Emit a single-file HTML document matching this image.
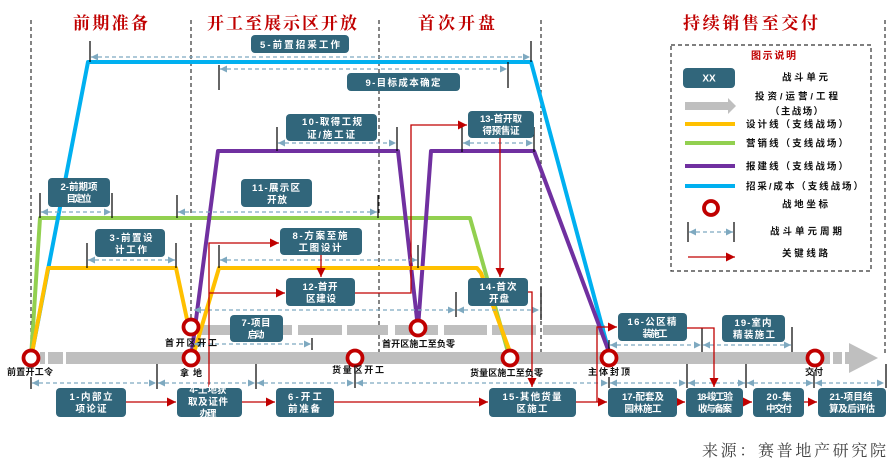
<!DOCTYPE html>
<html><head><meta charset="utf-8"><style>
html,body{margin:0;padding:0;background:#fff;}
svg{display:block;}
text{font-family:"Liberation Sans","Noto Sans CJK SC",sans-serif;}
.hd{font-family:"Liberation Serif","Noto Serif CJK SC",serif;font-weight:bold;font-size:17px;fill:#c00000;}
.bx{fill:#31667b;}
.bt{fill:#fff;font-weight:bold;font-size:9.5px;}
.lb{fill:#111;font-weight:bold;font-size:9px;}
.lg{fill:#111;font-weight:bold;font-size:9.5px;}
</style></head><body>
<svg width="893" height="474" viewBox="0 0 893 474" xmlns="http://www.w3.org/2000/svg">
<defs>
<marker id="pa" markerUnits="userSpaceOnUse" markerWidth="8" markerHeight="8" refX="7" refY="4" orient="auto-start-reverse"><path d="M0,0.5 L7,4 L0,7.5 z" fill="#7ea9c0"/></marker>
<marker id="ra" markerUnits="userSpaceOnUse" markerWidth="10" markerHeight="10" refX="9" refY="4.5" orient="auto"><path d="M0,0 L9,4.5 L0,9 z" fill="#c00000"/></marker>
</defs>

<!-- separators -->
<g stroke="#333" stroke-width="1.2" stroke-dasharray="4,3">
<line x1="31" y1="20" x2="31" y2="350"/>
<line x1="191" y1="20" x2="191" y2="320"/>
<line x1="379" y1="20" x2="379" y2="352"/>
<line x1="541" y1="20" x2="541" y2="352"/>
<line x1="885" y1="20" x2="885" y2="353"/>
</g>

<!-- headers -->
<text class="hd" x="73" y="29" textLength="75" lengthAdjust="spacing">前期准备</text>
<text class="hd" x="207" y="29" textLength="150" lengthAdjust="spacing">开工至展示区开放</text>
<text class="hd" x="418" y="29" textLength="77" lengthAdjust="spacing">首次开盘</text>
<text class="hd" x="683" y="29" textLength="135" lengthAdjust="spacing">持续销售至交付</text>

<!-- main gray arrow -->
<g fill="#bfbfbf">
<rect x="40" y="352" width="5" height="12"/>
<rect x="48" y="352" width="15" height="12"/>
<rect x="66" y="352" width="764" height="12"/>
<rect x="833" y="352" width="9" height="12"/>
<polygon points="845,352 849,352 849,343 878,358 849,373 849,364 845,364"/>
<!-- upper bar -->
<rect x="200" y="325" width="92" height="10"/>
<rect x="298" y="325" width="44" height="10"/>
<rect x="347" y="325" width="41" height="10"/>
<rect x="395" y="325" width="43" height="10"/>
<rect x="444" y="325" width="43" height="10"/>
<rect x="492" y="325" width="44" height="10"/>
<rect x="543" y="325" width="62" height="10"/>
</g>

<!-- colored lines -->
<g fill="none" stroke-width="4" stroke-linejoin="round">
<polyline stroke="#92d050" points="31,358 40,218 470,218 508,352"/>
<polyline stroke="#00b0f0" points="31,358 88,62 531,62 609,352"/>
<polyline stroke="#7030a0" points="191,358 218,151 398,151 418,328 431,151 534,151 609,352"/>
<polyline stroke="#ffc000" points="31,358 48,268 176,268 188,324"/>
<polyline stroke="#ffc000" points="193,356 219,268 477,268 481,273 510,352"/>
</g>

<!-- period lines -->
<g stroke="#7ea9c0" stroke-width="1.2" stroke-dasharray="4,3" marker-start="url(#pa)" marker-end="url(#pa)">
<line x1="91" y1="57" x2="530" y2="57"/>
<line x1="220" y1="69" x2="507" y2="69"/>
<line x1="278" y1="143" x2="396" y2="143"/>
<line x1="463" y1="143" x2="533" y2="143"/>
<line x1="41" y1="212" x2="111" y2="212"/>
<line x1="178" y1="212" x2="377" y2="212"/>
<line x1="88" y1="260" x2="175" y2="260"/>
<line x1="220" y1="260" x2="417" y2="260"/>
<line x1="194" y1="310" x2="455" y2="310"/>
<line x1="457" y1="310" x2="539" y2="310"/>
<line x1="194" y1="344" x2="311" y2="344"/>
<line x1="32" y1="383" x2="156" y2="383"/>
<line x1="158" y1="383" x2="255" y2="383"/>
<line x1="257" y1="383" x2="354" y2="383"/>
<line x1="356" y1="383" x2="608" y2="383"/>
<line x1="610" y1="383" x2="686" y2="383"/>
<line x1="688" y1="383" x2="745" y2="383"/>
<line x1="747" y1="383" x2="813" y2="383"/>
<line x1="815" y1="383" x2="884" y2="383"/>
<line x1="610" y1="345" x2="701" y2="345"/>
<line x1="703" y1="345" x2="791" y2="345"/>
</g>
<!-- ticks -->
<g stroke="#000" stroke-width="1.2">
<line x1="90" y1="41" x2="90" y2="62"/><line x1="531" y1="41" x2="531" y2="62"/>
<line x1="219" y1="65" x2="219" y2="90"/><line x1="508" y1="62" x2="508" y2="88"/>
<line x1="277" y1="127" x2="277" y2="151"/><line x1="397" y1="127" x2="397" y2="151"/>
<line x1="462" y1="127" x2="462" y2="152"/><line x1="534" y1="127" x2="534" y2="152"/>
<line x1="40" y1="193" x2="40" y2="218"/><line x1="112" y1="193" x2="112" y2="218"/>
<line x1="177" y1="195" x2="177" y2="218"/><line x1="378" y1="195" x2="378" y2="218"/>
<line x1="87" y1="243" x2="87" y2="268"/><line x1="176" y1="243" x2="176" y2="268"/>
<line x1="219" y1="245" x2="219" y2="268"/><line x1="418" y1="245" x2="418" y2="268"/>
<line x1="456" y1="292" x2="456" y2="317"/><line x1="541" y1="287" x2="541" y2="320"/>
<line x1="312" y1="338" x2="312" y2="350"/>
<line x1="31" y1="377" x2="31" y2="389"/><line x1="157" y1="364" x2="157" y2="389"/>
<line x1="256" y1="364" x2="256" y2="389"/><line x1="355" y1="360" x2="355" y2="388"/>
<line x1="609" y1="377" x2="609" y2="388"/><line x1="687" y1="364" x2="687" y2="388"/>
<line x1="746" y1="364" x2="746" y2="388"/><line x1="814" y1="372" x2="814" y2="388"/>
<line x1="886" y1="364" x2="886" y2="388"/>
<line x1="702" y1="328" x2="702" y2="352"/><line x1="792" y1="327" x2="792" y2="352"/>
<line x1="609" y1="340" x2="609" y2="352"/>
</g>

<!-- red critical path -->
<g stroke="#c00000" stroke-width="1.3" fill="none" marker-end="url(#ra)">
<path d="M126,402 H176"/>
<path d="M242,402 H275"/>
<path d="M334,402 H488"/>
<path d="M576,402 H607"/>
<path d="M677,402 H685"/>
<path d="M743,402 H752"/>
<path d="M804,402 H817"/>
<path d="M209,388 V243 H279"/>
<path d="M209,293 H285"/>
<path d="M321,255 V277"/>
<path d="M355,293 H411 V125 H467"/>
<path d="M500,138 V277"/>
<path d="M528,292 H532 V387"/>
<path d="M597,402 V327 H617"/>
<path d="M687,328 H714 V387"/>
</g>

<!-- boxes -->
<g>
<rect class="bx" x="251" y="35" width="98" height="18" rx="4"/>
<text class="bt" x="300" y="48" text-anchor="middle" textLength="80" lengthAdjust="spacing">5-前置招采工作</text>

<rect class="bx" x="347" y="73" width="113" height="18" rx="4"/>
<text class="bt" x="403" y="86" text-anchor="middle" textLength="75" lengthAdjust="spacing">9-目标成本确定</text>

<rect class="bx" x="286" y="114" width="91" height="27" rx="4"/>
<text class="bt" x="332" y="125" text-anchor="middle" textLength="60" lengthAdjust="spacing">10-取得工规</text>
<text class="bt" x="331" y="138" text-anchor="middle" textLength="48" lengthAdjust="spacing">证/施工证</text>

<rect class="bx" x="468" y="111" width="66" height="27" rx="4"/>
<text class="bt" x="501" y="122" text-anchor="middle" font-size="8.5" textLength="42" lengthAdjust="spacing">13-首开取</text>
<text class="bt" x="501" y="134" text-anchor="middle" font-size="8.5" textLength="37" lengthAdjust="spacing">得预售证</text>

<rect class="bx" x="48" y="178" width="62" height="29" rx="4"/>
<text class="bt" x="79" y="190" text-anchor="middle" font-size="8.5" textLength="37" lengthAdjust="spacing">2-前期项</text>
<text class="bt" x="79" y="202" text-anchor="middle" font-size="8.5" textLength="25" lengthAdjust="spacing">目定位</text>

<rect class="bx" x="241" y="179" width="71" height="28" rx="4"/>
<text class="bt" x="276" y="191" text-anchor="middle" textLength="48" lengthAdjust="spacing">11-展示区</text>
<text class="bt" x="277" y="203" text-anchor="middle" textLength="20" lengthAdjust="spacing">开放</text>

<rect class="bx" x="95" y="229" width="70" height="28" rx="4"/>
<text class="bt" x="131" y="241" text-anchor="middle" textLength="43" lengthAdjust="spacing">3-前置设</text>
<text class="bt" x="131" y="253" text-anchor="middle" textLength="32" lengthAdjust="spacing">计工作</text>

<rect class="bx" x="280" y="228" width="82" height="27" rx="4"/>
<text class="bt" x="320" y="239" text-anchor="middle" textLength="55" lengthAdjust="spacing">8-方案至施</text>
<text class="bt" x="320" y="251" text-anchor="middle" textLength="43" lengthAdjust="spacing">工图设计</text>

<rect class="bx" x="286" y="278" width="69" height="28" rx="4"/>
<text class="bt" x="320" y="290" text-anchor="middle" textLength="35" lengthAdjust="spacing">12-首开</text>
<text class="bt" x="321" y="302" text-anchor="middle" textLength="30" lengthAdjust="spacing">区建设</text>

<rect class="bx" x="468" y="278" width="60" height="28" rx="4"/>
<text class="bt" x="498" y="290" text-anchor="middle" textLength="37" lengthAdjust="spacing">14-首次</text>
<text class="bt" x="499" y="302" text-anchor="middle" textLength="20" lengthAdjust="spacing">开盘</text>

<rect class="bx" x="230" y="315" width="53" height="27" rx="4"/>
<text class="bt" x="256" y="326" text-anchor="middle" font-size="8.5" textLength="29" lengthAdjust="spacing">7-项目</text>
<text class="bt" x="256" y="338" text-anchor="middle" font-size="8.5" textLength="17" lengthAdjust="spacing">启动</text>

<rect class="bx" x="618" y="313" width="69" height="28" rx="4"/>
<text class="bt" x="652" y="325" text-anchor="middle" textLength="49" lengthAdjust="spacing">16-公区精</text>
<text class="bt" x="655" y="337" text-anchor="middle" textLength="25" lengthAdjust="spacing">装施工</text>

<rect class="bx" x="722" y="315" width="63" height="27" rx="4"/>
<text class="bt" x="753" y="326" text-anchor="middle" textLength="37" lengthAdjust="spacing">19-室内</text>
<text class="bt" x="754" y="338" text-anchor="middle" textLength="42" lengthAdjust="spacing">精装施工</text>

<rect class="bx" x="56" y="388" width="70" height="29" rx="4"/>
<text class="bt" x="91" y="400" text-anchor="middle" textLength="43" lengthAdjust="spacing">1-内部立</text>
<text class="bt" x="91" y="412" text-anchor="middle" textLength="31" lengthAdjust="spacing">项论证</text>

<rect class="bx" x="177" y="388" width="65" height="29" rx="4"/>
<text class="bt" x="208" y="393" text-anchor="middle" font-size="8.5" textLength="37" lengthAdjust="spacing">4-土地获</text>
<text class="bt" x="208" y="405" text-anchor="middle" font-size="8.5" textLength="40" lengthAdjust="spacing">取及证件</text>
<text class="bt" x="208" y="417" text-anchor="middle" font-size="8.5" textLength="17" lengthAdjust="spacing">办理</text>

<rect class="bx" x="276" y="388" width="58" height="29" rx="4"/>
<text class="bt" x="305" y="400" text-anchor="middle" textLength="34" lengthAdjust="spacing">6-开工</text>
<text class="bt" x="304" y="412" text-anchor="middle" textLength="32" lengthAdjust="spacing">前准备</text>

<rect class="bx" x="489" y="388" width="87" height="29" rx="4"/>
<text class="bt" x="532" y="400" text-anchor="middle" textLength="59" lengthAdjust="spacing">15-其他货量</text>
<text class="bt" x="532" y="412" text-anchor="middle" textLength="31" lengthAdjust="spacing">区施工</text>

<rect class="bx" x="608" y="388" width="69" height="29" rx="4"/>
<text class="bt" x="643" y="400" text-anchor="middle" font-size="8.5" textLength="42" lengthAdjust="spacing">17-配套及</text>
<text class="bt" x="643" y="412" text-anchor="middle" font-size="8.5" textLength="37" lengthAdjust="spacing">园林施工</text>

<rect class="bx" x="686" y="388" width="57" height="29" rx="4"/>
<text class="bt" x="715" y="400" text-anchor="middle" font-size="8" textLength="36" lengthAdjust="spacing">18-竣工验</text>
<text class="bt" x="715" y="412" text-anchor="middle" font-size="8" textLength="34" lengthAdjust="spacing">收与备案</text>

<rect class="bx" x="753" y="388" width="51" height="29" rx="4"/>
<text class="bt" x="779" y="400" text-anchor="middle" font-size="8.5" textLength="25" lengthAdjust="spacing">20-集</text>
<text class="bt" x="779" y="412" text-anchor="middle" font-size="8.5" textLength="26" lengthAdjust="spacing">中交付</text>

<rect class="bx" x="818" y="388" width="68" height="29" rx="4"/>
<text class="bt" x="851" y="400" text-anchor="middle" font-size="8.5" textLength="43" lengthAdjust="spacing">21-项目结</text>
<text class="bt" x="852" y="412" text-anchor="middle" font-size="8.5" textLength="46" lengthAdjust="spacing">算及后评估</text>
</g>

<!-- circles -->
<g fill="#fff" stroke="#c00000" stroke-width="3.8">
<circle cx="31" cy="358" r="7.5"/>
<circle cx="191" cy="358" r="7.5"/>
<circle cx="355" cy="358" r="7.5"/>
<circle cx="510" cy="358" r="7.5"/>
<circle cx="609" cy="358" r="7.5"/>
<circle cx="815" cy="358" r="7.5"/>
<circle cx="191" cy="327" r="7.5"/>
<circle cx="418" cy="328" r="7.5"/>
</g>

<!-- milestone labels -->
<text class="lb" x="7" y="375" textLength="46" lengthAdjust="spacing">前置开工令</text>
<text class="lb" x="180" y="376" font-size="11" textLength="22" lengthAdjust="spacing">拿地</text>
<text class="lb" x="165" y="346" textLength="52" lengthAdjust="spacing">首开区开工</text>
<text class="lb" x="382" y="347" font-size="8" textLength="73" lengthAdjust="spacing">首开区施工至负零</text>
<text class="lb" x="332" y="373" textLength="52" lengthAdjust="spacing">货量区开工</text>
<text class="lb" x="470" y="376" font-size="8" textLength="73" lengthAdjust="spacing">货量区施工至负零</text>
<text class="lb" x="588" y="375" textLength="42" lengthAdjust="spacing">主体封顶</text>
<text class="lb" x="805" y="375" textLength="18" lengthAdjust="spacing">交付</text>

<!-- legend -->
<rect x="671" y="45" width="200" height="226" fill="none" stroke="#333" stroke-width="1.2" stroke-dasharray="4,3"/>
<text x="751" y="59" fill="#c00000" font-weight="bold" font-size="10" textLength="45" lengthAdjust="spacing">图示说明</text>
<rect class="bx" x="683" y="68" width="52" height="20" rx="4"/>
<text x="709" y="81.5" fill="#fff" font-weight="bold" font-size="10" text-anchor="middle">XX</text>
<text class="lg" x="782" y="80.5" textLength="46" lengthAdjust="spacing">战斗单元</text>
<polygon points="685,102 728,102 728,98 736,106 728,114 728,110 685,110" fill="#bfbfbf"/>
<text class="lg" x="755" y="99.5" textLength="83" lengthAdjust="spacing">投资/运营/工程</text>
<text class="lg" x="770" y="114.5" textLength="53" lengthAdjust="spacing">（主战场）</text>
<line x1="685" y1="124" x2="735" y2="124" stroke="#ffc000" stroke-width="4"/>
<text class="lg" x="746" y="127.5" textLength="102" lengthAdjust="spacing">设计线（支线战场）</text>
<line x1="685" y1="143" x2="735" y2="143" stroke="#92d050" stroke-width="4"/>
<text class="lg" x="746" y="146.5" textLength="102" lengthAdjust="spacing">营销线（支线战场）</text>
<line x1="685" y1="166" x2="735" y2="166" stroke="#7030a0" stroke-width="4"/>
<text class="lg" x="746" y="169.5" textLength="102" lengthAdjust="spacing">报建线（支线战场）</text>
<line x1="685" y1="186" x2="735" y2="186" stroke="#00b0f0" stroke-width="4"/>
<text class="lg" x="746" y="189.5" textLength="117" lengthAdjust="spacing">招采/成本（支线战场）</text>
<circle cx="711" cy="208" r="7" fill="#fff" stroke="#c00000" stroke-width="3.8"/>
<text class="lg" x="782" y="207.5" textLength="46" lengthAdjust="spacing">战地坐标</text>
<line x1="688" y1="222" x2="688" y2="242" stroke="#000" stroke-width="1.2"/>
<line x1="734" y1="222" x2="734" y2="242" stroke="#000" stroke-width="1.2"/>
<line x1="689" y1="232" x2="733" y2="232" stroke="#7ea9c0" stroke-width="1.2" stroke-dasharray="4,3" marker-start="url(#pa)" marker-end="url(#pa)"/>
<text class="lg" x="770" y="234.5" textLength="72" lengthAdjust="spacing">战斗单元周期</text>
<line x1="688" y1="257" x2="735" y2="257" stroke="#c00000" stroke-width="1.3" marker-end="url(#ra)"/>
<text class="lg" x="782" y="256.5" textLength="46" lengthAdjust="spacing">关键线路</text>

<!-- source -->
<text x="702" y="456" fill="#404040" font-size="16" textLength="184" lengthAdjust="spacing" style="font-family:'Liberation Serif','Noto Serif CJK SC',serif;">来源：赛普地产研究院</text>
</svg>
</body></html>
